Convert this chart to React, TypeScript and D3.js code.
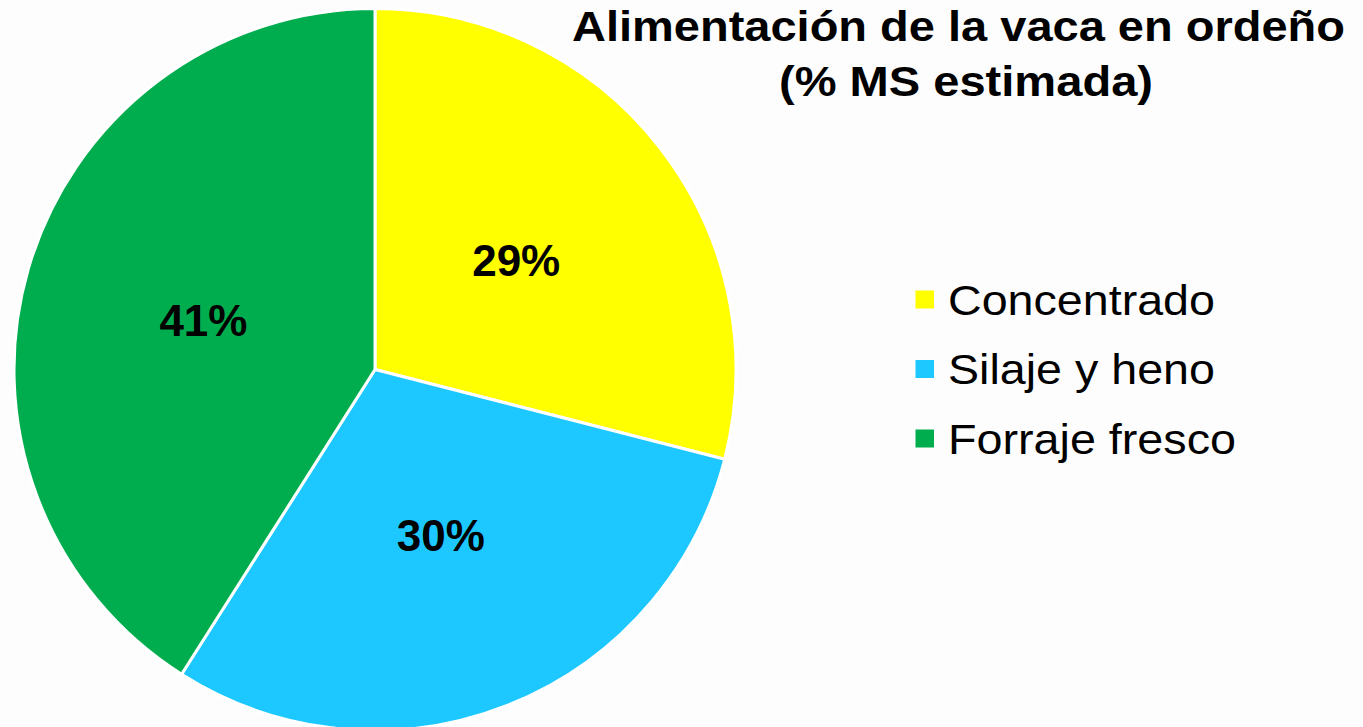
import React from "react";
import * as d3 from "d3";

const categories = ["Concentrado", "Silaje y heno", "Forraje fresco"];
const values = [29, 30, 41];
const colors = ["#FFFF00", "#1CC8FF", "#00AD4E"];
const titleLines = ["Alimentación de la vaca en ordeño", "(% MS estimada)"];
const legendWidths = [267, 267, 288];

export default function App() {
  const W = 1363;
  const H = 727;
  const cx = 375;
  const cy = 369.5;
  const r = 361;

  const pie = d3.pie<number>().sort(null).value((d) => d)(values);
  const arc = d3.arc<d3.PieArcDatum<number>>().innerRadius(0).outerRadius(r);
  const labelArc = d3
    .arc<d3.PieArcDatum<number>>()
    .innerRadius(r * 0.495)
    .outerRadius(r * 0.495);

  const legendY = d3.scaleLinear().domain([0, 1]).range([299.5, 369]);

  return (
    <svg
      width={W}
      height={H}
      style={{ position: "fixed", left: 0, top: 0, background: "#FDFDFD" }}
      fontFamily="'Liberation Sans', Arial, sans-serif"
    >
      <rect width={W} height={H} fill="#FDFDFD" />
      <g transform={`translate(${cx},${cy})`}>
        {pie.map((p, i) => (
          <path key={i} d={arc(p) || ""} fill={colors[i]} stroke="#FFFFFF" strokeWidth={3} strokeLinejoin="round" />
        ))}
        {pie.map((p, i) => {
          const [x, y] = labelArc.centroid(p);
          return (
            <text
              key={"l" + i}
              x={x}
              y={y}
              dy="0.36em"
              textAnchor="middle"
              fontSize={44}
              fontWeight="bold"
              fill="#000"
            >
              {values[i]}%
            </text>
          );
        })}
      </g>
      <text
        x={958.5}
        y={41}
        textAnchor="middle"
        fontSize={43}
        fontWeight="bold"
        textLength={773}
        lengthAdjust="spacingAndGlyphs"
      >
        {titleLines[0]}
      </text>
      <text
        x={966}
        y={96}
        textAnchor="middle"
        fontSize={43}
        fontWeight="bold"
        textLength={374}
        lengthAdjust="spacingAndGlyphs"
      >
        {titleLines[1]}
      </text>
      {categories.map((c, i) => (
        <g key={c} transform={`translate(0,${legendY(i)})`}>
          <rect x={915.5} y={-9} width={18.5} height={18} fill={colors[i]} />
          <text
            x={948}
            y={0}
            dy="0.36em"
            fontSize={43}
            fill="#000"
            textLength={legendWidths[i]}
            lengthAdjust="spacingAndGlyphs"
          >
            {c}
          </text>
        </g>
      ))}
    </svg>
  );
}
